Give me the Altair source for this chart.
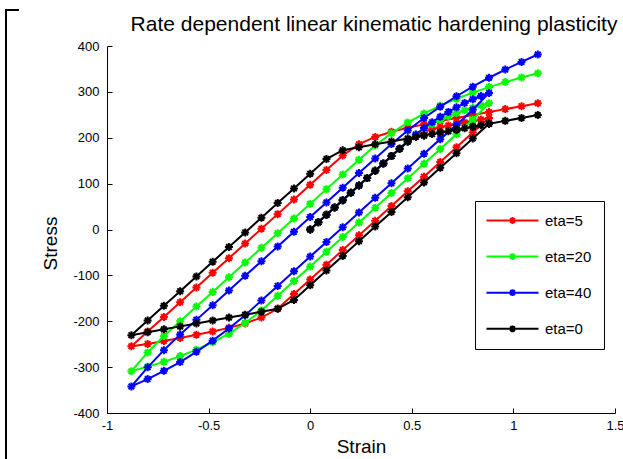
import altair as alt
import pandas as pd

# strain history: initial loading, unloading, reloading
strain = [0, 0.04, 0.08, 0.12, 0.16, 0.2, 0.24, 0.28, 0.32, 0.36, 0.4, 0.44, 0.48,
          0.52, 0.56, 0.6, 0.64, 0.68, 0.72, 0.76, 0.8, 0.84, 0.88,
          0.8, 0.72, 0.64, 0.56, 0.48, 0.4, 0.32, 0.24, 0.16, 0.08, 0, -0.08, -0.16,
          -0.24, -0.32, -0.4, -0.48, -0.56, -0.64, -0.72, -0.8, -0.88,
          -0.8, -0.72, -0.64, -0.56, -0.48, -0.4, -0.32, -0.24, -0.16, -0.08, 0, 0.08,
          0.16, 0.24, 0.32, 0.4, 0.48, 0.56, 0.64, 0.72, 0.8, 0.88, 0.96, 1.04, 1.12]

stress_eta5 = [0, 16, 32, 48, 64, 80, 96, 112, 128, 144, 160, 176, 192,
               204.8, 212.8, 218.4, 222.8, 226.6, 230.1, 233.4, 236.7, 240.0, 243.2,
               211.2, 179.2, 147.2, 115.2, 83.2, 51.2, 19.2, -12.8, -44.8, -76.8, -108.8, -140.8, -172.8,
               -192.0, -204.8, -214.4, -222.4, -229.6, -236.4, -243.0, -249.5, -254.5,
               -222.5, -190.5, -158.5, -126.5, -94.5, -62.5, -30.5, 1.5, 33.5, 65.5, 97.5, 129.5,
               161.5, 186.0, 201.8, 212.9, 221.6, 229.2, 236.2, 242.9, 249.4, 255.9, 262.4, 268.8, 275.2]

stress_eta20 = [0, 16, 32, 48, 64, 80, 96, 112, 128, 144, 160, 176, 192,
                206.7, 219.1, 229.7, 238.8, 246.7, 253.7, 259.9, 265.5, 270.7, 275.4,
                239.5, 207.5, 175.5, 143.5, 111.5, 79.5, 47.5, 15.5, -16.5, -48.5, -80.5, -112.5, -144.5,
                -176.5, -203.9, -227.1, -246.0, -262.0, -276.0, -288.5, -299.0, -309.0,
                -268.0, -232.0, -200.0, -168.0, -136.0, -104.0, -72.0, -40.0, -8.0, 24.0, 56.0, 88.0,
                120.0, 152.0, 183.0, 210.0, 233.0, 252.8, 270.0, 285.0, 298.4, 310.4, 321.3, 331.3, 340.6]

stress_eta40 = [0, 16, 32, 48, 64, 80, 96, 112, 128, 144, 160, 176, 192,
                207.3, 221.2, 234.0, 245.7, 256.4, 266.3, 275.5, 284.0, 291.0, 297.5,
                261.0, 228.0, 197.0, 165.0, 133.0, 101.0, 69.0, 37.0, 5.0, -27.0, -59.0, -91.0, -123.0,
                -155.0, -186.8, -215.8, -242.3, -266.6, -288.9, -308.0, -326.0, -342.0,
                -300.5, -263.0, -229.0, -197.0, -165.0, -133.0, -101.0, -69.0, -37.0, -5.0, 27.0, 59.0,
                91.0, 123.0, 155.0, 186.5, 216.0, 243.0, 267.8, 290.5, 311.4, 330.8, 348.7, 365.3, 381.5]

stress_eta0 = [0, 16, 32, 48, 64, 80, 96, 112, 128, 144, 160, 176, 192,
               201.6, 204.8, 208, 211.2, 214.4, 217.6, 220.8, 224, 227.2, 230.4,
               198.4, 166.4, 134.4, 102.4, 70.4, 38.4, 6.4, -25.6, -57.6, -89.6, -121.6, -153.6, -172.8,
               -179.2, -185.6, -192, -198.4, -204.8, -211.2, -217.6, -224, -230.4,
               -198.4, -166.4, -134.4, -102.4, -70.4, -38.4, -6.4, 25.6, 57.6, 89.6, 121.6, 153.6,
               172.8, 179.2, 185.6, 192, 198.4, 204.8, 211.2, 217.6, 224, 230.4, 236.8, 243.2, 249.6]

series_names = ["eta=5", "eta=20", "eta=40", "eta=0"]
series_colors = ["#FF0000", "#00FF00", "#0000FF", "#000000"]
series_values = [stress_eta5, stress_eta20, stress_eta40, stress_eta0]

x_ticks = [-1, -0.5, 0, 0.5, 1, 1.5]
y_ticks = [-400, -300, -200, -100, 0, 100, 200, 300, 400]

rows = []
for name, vals in zip(series_names, series_values):
    for i, (sx, sy) in enumerate(zip(strain, vals)):
        rows.append({"series": name, "idx": i, "strain": sx, "stress": sy})
df = pd.DataFrame(rows)

FONT = "Liberation Sans"
ASTERISK = "M-1,0L1,0M0,-1L0,1M-0.7,-0.7L0.7,0.7M-0.7,0.7L0.7,-0.7"
LEG_SYMBOL = ("M-5.2,0L5.2,0M-0.68,0L0.68,0M0,-0.68L0,0.68"
              "M-0.48,-0.48L0.48,0.48M-0.48,0.48L0.48,-0.48")

legend = alt.Legend(
    title=None, orient="none", legendX=368, legendY=155,
    symbolType=LEG_SYMBOL, symbolSize=100, symbolStrokeWidth=2, symbolOffset=18,
    labelFont=FONT, labelFontSize=15, labelColor="black", labelOffset=25,
    rowPadding=20.1, padding=12, strokeColor="black", fillColor="white",
)
color = alt.Color("series:N", scale=alt.Scale(domain=series_names, range=series_colors),
                  legend=legend)

x_scale = alt.Scale(domain=[-1, 1.5], nice=False, zero=False)
y_scale = alt.Scale(domain=[-400, 400], nice=False, zero=False)

x_main = alt.Axis(title="Strain", orient="bottom", values=x_ticks, labelExpr="toString(datum.value)",
                  ticks=False, tickSize=0, grid=False, domainColor="black", domainWidth=1,
                  labelFont=FONT, labelFontSize=13, labelColor="black", labelPadding=6,
                  labelFlush=False, titleFont=FONT, titleFontSize=19, titleFontWeight="normal",
                  titleColor="black", titlePadding=5)
y_main = alt.Axis(title="Stress", orient="left", values=y_ticks, labelExpr="toString(datum.value)",
                  ticks=False, tickSize=0, grid=False, domainColor="black", domainWidth=1,
                  labelFont=FONT, labelFontSize=13, labelColor="black", labelPadding=8,
                  labelFlush=False, titleFont=FONT, titleFontSize=19, titleFontWeight="normal",
                  titleColor="black", titlePadding=12, titleY=197)
x_tick_axis = alt.Axis(title=None, orient="bottom", offset=-5, values=x_ticks, labels=False,
                       domain=False, ticks=True, tickSize=5, tickColor="black", tickWidth=1,
                       grid=False)
y_tick_axis = alt.Axis(title=None, orient="left", offset=-5, values=y_ticks, labels=False,
                       domain=False, ticks=True, tickSize=5, tickColor="black", tickWidth=1,
                       grid=False)

layers = []
for k, name in enumerate(series_names):
    base = alt.Chart(df).transform_filter(alt.datum.series == name)
    for j, kind in enumerate(["line", "point"]):
        if k == 0 and j == 0:
            xa, ya = x_main, y_main
        elif k == 0 and j == 1:
            xa, ya = x_tick_axis, y_tick_axis
        else:
            xa, ya = None, None
        enc = base.encode(
            x=alt.X("strain:Q", scale=x_scale, axis=xa),
            y=alt.Y("stress:Q", scale=y_scale, axis=ya),
            color=color,
            order=alt.Order("idx:Q"),
        )
        if kind == "line":
            layers.append(enc.mark_line(strokeWidth=2))
        else:
            layers.append(enc.mark_point(shape=ASTERISK, filled=False, size=64,
                                         strokeWidth=2, opacity=1))

# window frame edge visible at the left/top of the reference screenshot
frame_left = alt.Chart(df).mark_rule(color="black", strokeWidth=2, clip=False).encode(
    x=alt.value(-101), y=alt.value(-36), y2=alt.value(413))
frame_top = alt.Chart(df).mark_rule(color="black", strokeWidth=2, clip=False).encode(
    x=alt.value(-102), x2=alt.value(-88), y=alt.value(-36))

chart = alt.layer(*layers, frame_left, frame_top).resolve_axis(
    x="independent", y="independent").properties(
    width=508, height=367,
    title=alt.TitleParams("Rate dependent linear kinematic hardening plasticity",
                          font=FONT, fontSize=21, fontWeight="normal", color="black",
                          anchor="middle", offset=-26, dx=13),
    autosize=alt.AutoSizeParams(type="none"),
    padding={"left": 107, "top": 46, "right": 8, "bottom": 46},
    background="white",
).configure_view(stroke=None)

chart.save("out.html", embed_options={"renderer": "svg", "actions": False})
